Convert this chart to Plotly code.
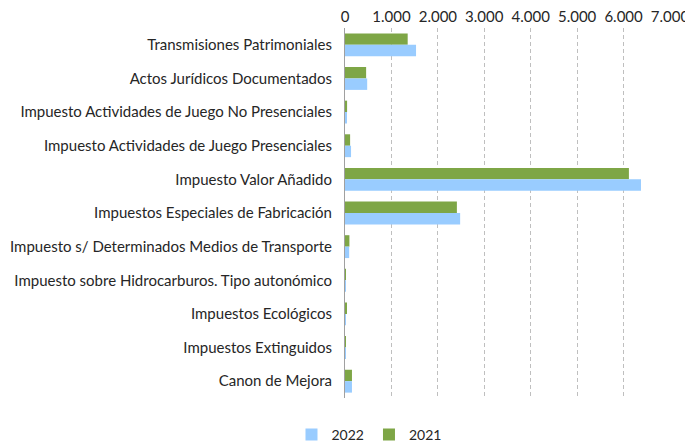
import plotly.graph_objects as go

categories = [
    "Transmisiones Patrimoniales",
    "Actos Jurídicos Documentados",
    "Impuesto Actividades de Juego No Presenciales",
    "Impuesto Actividades de Juego Presenciales",
    "Impuesto Valor Añadido",
    "Impuestos Especiales de Fabricación",
    "Impuesto s/ Determinados Medios de Transporte",
    "Impuesto sobre Hidrocarburos. Tipo autonómico",
    "Impuestos Ecológicos",
    "Impuestos Extinguidos",
    "Canon de Mejora",
]
values_2021 = [1350, 455, 45, 110, 6115, 2410, 95, 3, 30, 2, 150]
values_2022 = [1530, 478, 25, 130, 6375, 2480, 90, 5, 20, 5, 150]
x_ticks = [0, 1000, 2000, 3000, 4000, 5000, 6000, 7000]

FONT = "Lato"

fig = go.Figure()
fig.add_trace(go.Bar(y=categories, x=values_2021, name="2021", orientation="h",
                     marker=dict(color="#7ea646", line=dict(width=0))))
fig.add_trace(go.Bar(y=categories, x=values_2022, name="2022", orientation="h",
                     marker=dict(color="#99ccff", line=dict(width=0))))

# page body has an 8px margin, so the figure is drawn 8px right and down
fig.update_layout(
    width=685, height=440,
    margin=dict(l=337, r=23, t=20, b=50, autoexpand=False),
    plot_bgcolor="white", paper_bgcolor="white",
    barmode="group", bargap=0.32, bargroupgap=0,
    separators=",.",
    font=dict(family=FONT, size=15, color="#262626"),
    xaxis=dict(
        side="top", range=[0, 7000], tickvals=x_ticks, tickformat=",d",
        showgrid=True, gridcolor="#bfbfbf", griddash="4px,3px", gridwidth=1,
        zeroline=False, showline=False, ticks="", automargin=False,
        ticklabelstandoff=2,
        tickfont=dict(size=15, family=FONT, color="#262626"),
    ),
    yaxis=dict(
        autorange="reversed", showgrid=False, zeroline=False, automargin=False,
        showline=True, linecolor="#a0a0a0", linewidth=1, ticks="",
        ticklabelstandoff=9,
        tickfont=dict(size=15, family=FONT, color="#262626"),
    ),
    legend=dict(orientation="h", traceorder="reversed", xref="container", x=0.527,
                xanchor="center", yref="container", y=0.03, yanchor="middle",
                itemwidth=30, font=dict(size=14, family=FONT)),
    showlegend=True,
)

fig.write_html("out.html")
